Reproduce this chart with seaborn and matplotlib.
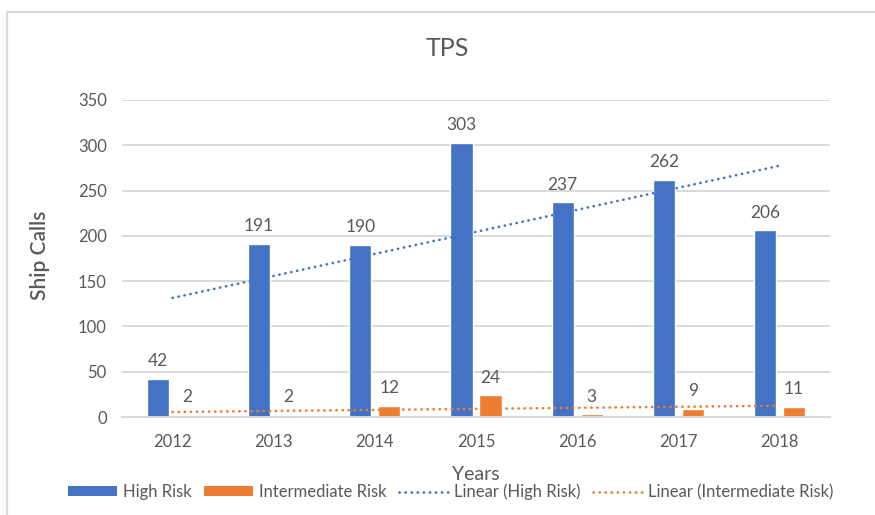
import numpy as np
import pandas as pd
import matplotlib
matplotlib.use("Agg")
import matplotlib.pyplot as plt
from matplotlib.patches import Patch
from matplotlib.lines import Line2D
import seaborn as sns

# Ship calls per year at TPS, by risk level
years = ["2012", "2013", "2014", "2015", "2016", "2017", "2018"]
high_risk = [42, 191, 190, 303, 237, 262, 206]
intermediate_risk = [2, 2, 12, 24, 3, 9, 11]
series_names = ["High Risk", "Intermediate Risk"]
y_ticks = [0, 50, 100, 150, 200, 250, 300, 350]

BLUE = "#4472C4"
ORANGE = "#ED7D31"
TEXT = "#595959"
GRID = "#D9D9D9"

sns.set_style("white")
plt.rcParams["font.family"] = ["Lato", "DejaVu Sans"]

df = pd.DataFrame({
    "Year": years * 2,
    "Risk": [series_names[0]] * len(years) + [series_names[1]] * len(years),
    "Calls": high_risk + intermediate_risk,
})

W, H = 875, 515
fig = plt.figure(figsize=(W / 100, H / 100), dpi=100)
ax = fig.add_axes([122 / W, 1 - 417 / H, (830 - 122) / W, (417 - 100) / H])

sns.barplot(data=df, x="Year", y="Calls", hue="Risk", order=years,
            hue_order=series_names, palette=[BLUE, ORANGE],
            width=0.575, gap=0.24, saturation=1, legend=False, ax=ax, zorder=2)

# Linear trendlines fitted to each series
xs = np.arange(len(years))
for vals, col in ((high_risk, BLUE), (intermediate_risk, ORANGE)):
    slope, icpt = np.polyfit(xs, vals, 1)
    ax.plot(xs, slope * xs + icpt, color=col, lw=1.9,
            linestyle=(0, (0.1, 2.2)), dash_capstyle="round", zorder=4)

for cont in ax.containers:
    ax.bar_label(cont, padding=7, fontsize=12.5, color=TEXT)

ax.set_xlim(-0.5, len(years) - 0.5)
ax.set_ylim(0, 350)
ax.set_yticks(y_ticks)
ax.yaxis.grid(True, color=GRID, lw=1.4, zorder=0)
ax.set_axisbelow(True)
for s in ("top", "right", "left"):
    ax.spines[s].set_visible(False)
ax.spines["bottom"].set_color(GRID)
ax.spines["bottom"].set_linewidth(1.4)
ax.tick_params(axis="both", length=0, labelsize=12, labelcolor=TEXT)
ax.tick_params(axis="x", pad=12)
ax.tick_params(axis="y", pad=11)

ax.set_xlabel("Years", fontsize=14, color=TEXT, va="center")
ax.xaxis.set_label_coords(0.5, (417 - 475) / 317)
ax.set_ylabel("Ship Calls", fontsize=15, color=TEXT, va="center",
              fontweight="semibold")
ax.yaxis.set_label_coords((40 - 122) / 708, (417 - 255) / 317)

fig.text(447 / W, 1 - 48 / H, "TPS", fontsize=18, color=TEXT,
         ha="center", va="center")

handles = [
    Patch(facecolor=BLUE, edgecolor="none"),
    Patch(facecolor=ORANGE, edgecolor="none"),
    Line2D([0], [0], color=BLUE, lw=1.9, linestyle=(0, (0.1, 2.2)),
           dash_capstyle="round"),
    Line2D([0], [0], color=ORANGE, lw=1.9, linestyle=(0, (0.1, 2.2)),
           dash_capstyle="round"),
]
labels = ["High Risk", "Intermediate Risk", "Linear (High Risk)",
          "Linear (Intermediate Risk)"]
fig.legend(handles, labels, loc="center", bbox_to_anchor=(451 / W, 1 - 492 / H),
           ncol=4, frameon=False, fontsize=12, labelcolor=TEXT,
           handlelength=2.9, handleheight=0.55, handletextpad=0.4,
           columnspacing=0.75, borderpad=0)

# Chart-area border along the top and left edges
fig.add_artist(Line2D([7 / W, 1.0], [1 - 12 / H, 1 - 12 / H],
                      transform=fig.transFigure, color=GRID, lw=1.6))
fig.add_artist(Line2D([7 / W, 7 / W], [1 - 12 / H, 0.0],
                      transform=fig.transFigure, color=GRID, lw=1.6))

fig.savefig("out.png", dpi=100)
